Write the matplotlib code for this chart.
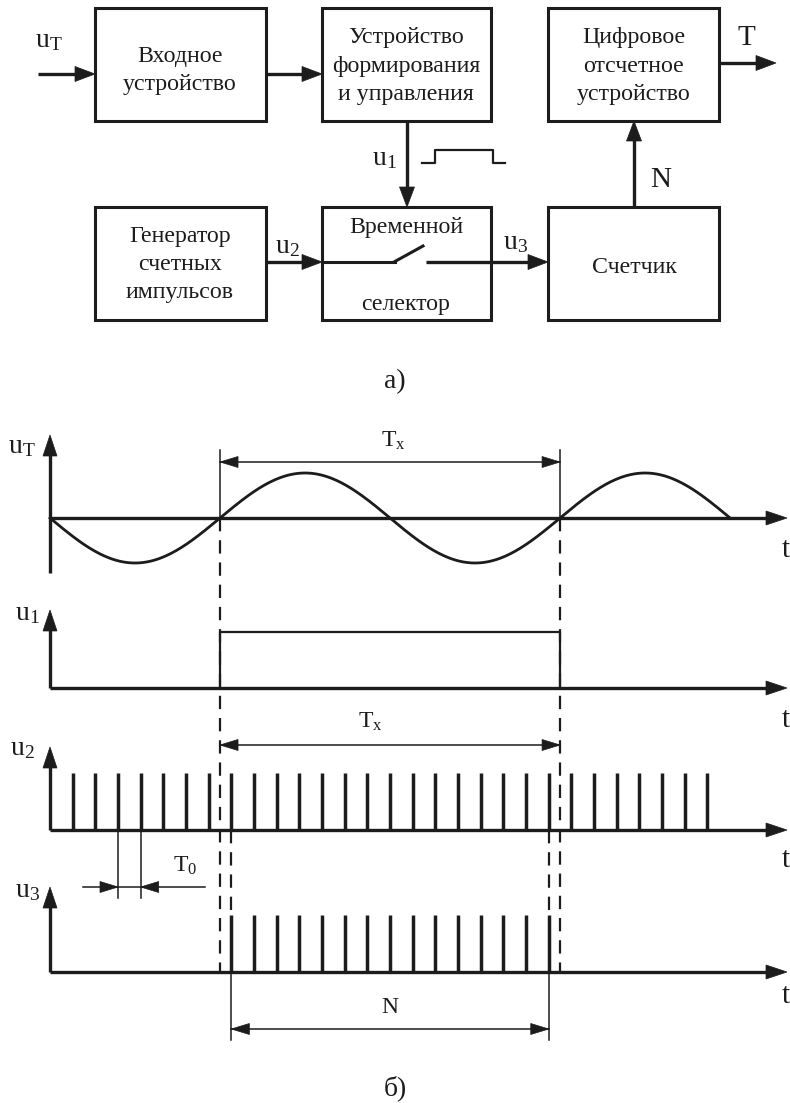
import numpy as np
import matplotlib
matplotlib.use("Agg")
import matplotlib.pyplot as plt
from matplotlib.patches import Rectangle, Polygon

plt.rcParams['font.family'] = ['Liberation Serif', 'DejaVu Serif']
plt.rcParams['mathtext.fontset'] = 'custom'
plt.rcParams['mathtext.rm'] = 'Liberation Serif'

INK = '#1c1c1c'

# ---- block diagram: box texts (lines) ----
box_text = {
    'inp':  ['Входное', 'устройство'],
    'form': ['Устройство', 'формирования', 'и управления'],
    'disp': ['Цифровое', 'отсчетное', 'устройство'],
    'gen':  ['Генератор', 'счетных', 'импульсов'],
    'sel':  ['Временной', 'селектор'],
    'cnt':  ['Счетчик'],
}

# ---- timing data (time in units of T0) ----
T0 = 1.0
Tx = 15.0                      # period of measured signal, in T0
gate_start = 7.5               # first positive zero crossing
gate_end = gate_start + Tx
sine_end = 30.0                # two periods drawn
u2_pulses = np.arange(1, 30)   # counting pulses n*T0
u3_pulses = np.arange(8, 23)   # pulses passed by the selector (N = 15)
t0_marks = [3, 4]              # pulses used to show T0

fig = plt.figure(figsize=(7.9, 11.03), dpi=100)
ax = fig.add_axes([0, 0, 1, 1])
ax.set_xlim(0, 790)
ax.set_ylim(1103, 0)
ax.axis('off')


def head(xt, yt, ux, uy, L, W):
    nx, ny = -uy, ux
    bx, by = xt - L * ux, yt - L * uy
    ax.add_patch(Polygon([(xt, yt), (bx + W / 2 * nx, by + W / 2 * ny),
                          (bx - W / 2 * nx, by - W / 2 * ny)],
                         closed=True, fc=INK, ec=INK, lw=0.5))


def arrow(x0, y0, x1, y1, lw=2.4, L=20, W=15):
    d = np.hypot(x1 - x0, y1 - y0)
    ux, uy = (x1 - x0) / d, (y1 - y0) / d
    ax.plot([x0, x1 - L * 0.7 * ux], [y0, y1 - L * 0.7 * uy], color=INK, lw=lw,
            solid_capstyle='butt')
    head(x1, y1, ux, uy, L, W)


def box(x0, y0, x1, y1):
    ax.add_patch(Rectangle((x0, y0), x1 - x0, y1 - y0, fill=False, ec=INK, lw=2.2))


def lines(cx, baselines, txt, fs=17.2):
    for b, s in zip(baselines, txt):
        ax.text(cx, b, s, ha='center', va='baseline', fontsize=fs, color=INK)


def lab(x, y, s, fs=20, ha='left'):
    ax.text(x, y, s, ha=ha, va='baseline', fontsize=fs, color=INK)


# ===== part a) =====
box(95, 8, 266, 121)
box(322, 8, 491, 121)
box(548, 8, 719, 121)
box(95, 207, 266, 320)
box(322, 207, 491, 320)
box(548, 207, 719, 320)

lines(180, [62, 90], box_text['inp'])
lines(406, [43, 72, 100], box_text['form'])
lines(634, [43, 72, 100], box_text['disp'])
lines(180, [242, 270, 298], box_text['gen'])
lines(406, [233, 310], box_text['sel'])
lines(634, [273], box_text['cnt'])

arrow(38, 74, 95, 74)
arrow(266, 74, 322, 74)
arrow(719, 63, 776, 63)
arrow(407, 121, 407, 207)
arrow(634, 207, 634, 121)
arrow(266, 262, 322, 262)
arrow(426, 262, 548, 262)

# switch in the selector
ax.plot([322, 395], [262, 262], color=INK, lw=2.2)
ax.plot([394, 423], [262, 246], color=INK, lw=2.2)

# gate pulse sketch
ax.plot([422, 435, 435, 493, 493, 505], [163, 163, 150, 150, 163, 163], color=INK, lw=1.6)

lab(35, 47, r'$\mathregular{u_T}$')
lab(372, 165, r'$\mathregular{u_1}$')
lab(275, 253, r'$\mathregular{u_2}$')
lab(503, 249, r'$\mathregular{u_3}$')
lab(737, 45, 'T', fs=21)
lab(650, 187, 'N', fs=21)
lab(395, 388, 'а)', fs=20, ha='center')

# ===== part б) timing diagram =====
X0 = 50.0
K = 22.67  # px per T0


def tx(t):
    return X0 + K * np.asarray(t, dtype=float)


bases = [518, 688, 830, 972]
tops = [435, 610, 747, 887]
ylabels = [r'$\mathregular{u_T}$', r'$\mathregular{u_1}$',
           r'$\mathregular{u_2}$', r'$\mathregular{u_3}$']
ylab_pos = [(8, 453), (15, 620), (10, 755), (15, 897)]
t_base = [557, 727, 867, 1003]

for i in range(4):
    y_start = 573 if i == 0 else bases[i]
    arrow(X0, y_start, X0, tops[i], lw=2.4, L=21, W=14)
    arrow(X0, bases[i], 787, bases[i], lw=2.4, L=21, W=14)
    lab(ylab_pos[i][0], ylab_pos[i][1], ylabels[i], fs=20)
    lab(782, t_base[i], 't', fs=21)

# sine
ts = np.linspace(0, sine_end, 400)
ax.plot(tx(ts), bases[0] - 45 * (-np.sin(2 * np.pi * ts / Tx)), color=INK, lw=2.0)

# dashed guides
for t in [gate_start, gate_end]:
    ax.plot([tx(t)] * 2, [bases[0], bases[3]], color=INK, lw=1.6, dashes=(6, 4))
for n in [u3_pulses[0], u3_pulses[-1]]:
    ax.plot([tx(n)] * 2, [bases[2], bases[3] - 57], color=INK, lw=1.6, dashes=(6, 4))

# gate pulse u1
ax.plot(tx([gate_start, gate_start, gate_end, gate_end]),
        [bases[1], bases[1] - 56, bases[1] - 56, bases[1]], color=INK, lw=1.6)

# pulses
ax.vlines(tx(u2_pulses), bases[2] - 57, bases[2], color=INK, lw=2.5)
ax.vlines(tx(u3_pulses), bases[3] - 57, bases[3], color=INK, lw=2.5)


def dim(xa, xb, y, lw=1.1):
    ax.plot([xa, xb], [y, y], color=INK, lw=lw)
    head(xa, y, -1, 0, 18, 11)
    head(xb, y, 1, 0, 18, 11)


# Tx dimensions
for t in [gate_start, gate_end]:
    ax.plot([tx(t)] * 2, [450, bases[0]], color=INK, lw=1.1)
dim(tx(gate_start), tx(gate_end), 462)
dim(tx(gate_start), tx(gate_end), 745)
lab(393, 447, r'$\mathregular{T_x}$', fs=17, ha='center')
lab(370, 728, r'$\mathregular{T_x}$', fs=17, ha='center')

# T0 dimension
xa, xb = tx(t0_marks[0] * T0), tx(t0_marks[1] * T0)
for x in [xa, xb]:
    ax.plot([x, x], [bases[2], 898], color=INK, lw=1.1)
ax.plot([83, 205], [887, 887], color=INK, lw=1.1)
head(xa, 887, 1, 0, 18, 11)
head(xb, 887, -1, 0, 18, 11)
lab(185, 872, r'$\mathregular{T_0}$', fs=17, ha='center')

# N dimension
na, nb = tx(u3_pulses[0]), tx(u3_pulses[-1])
for x in [na, nb]:
    ax.plot([x, x], [bases[3], 1040], color=INK, lw=1.1)
dim(na, nb, 1029)
lab(390, 1013, 'N', fs=17, ha='center')

lab(395, 1095, 'б)', fs=20, ha='center')

fig.savefig('out.png', dpi=100, facecolor='white')
